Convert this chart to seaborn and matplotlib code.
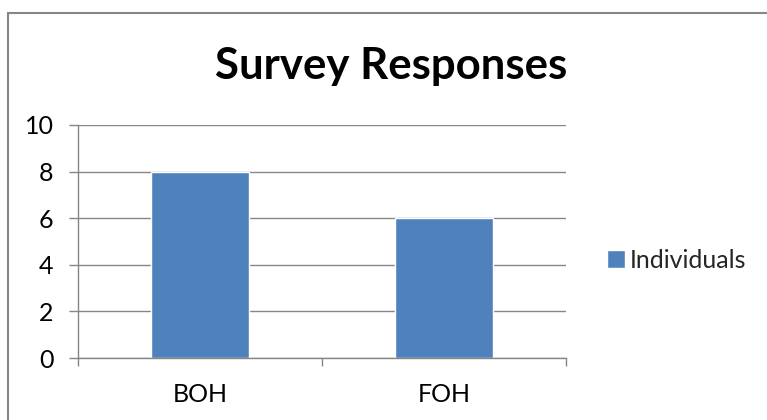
import matplotlib
matplotlib.use("Agg")
import matplotlib.pyplot as plt
import seaborn as sns
import pandas as pd
from matplotlib.patches import Rectangle

# Data
categories = ["BOH", "FOH"]
individuals = [8, 6]
series_name = "Individuals"
y_ticks = [0, 2, 4, 6, 8, 10]

df = pd.DataFrame({"Group": categories, "Count": individuals, "Series": series_name})

sns.set_theme(style="white")
plt.rcParams["font.family"] = ["Lato", "DejaVu Sans"]

W, H = 767, 420
fig = plt.figure(figsize=(W / 100, H / 100), dpi=100)
ax = fig.add_axes([78 / W, 1 - 358 / H, (566 - 78) / W, (358 - 125) / H])

bar_color = "#4F81BD"
grid_color = "#868686"

sns.barplot(data=df, x="Group", y="Count", hue="Series", palette=[bar_color],
            width=0.4, ax=ax, saturation=1, legend=True)

ax.set_xlim(-0.5, 1.5)
ax.set_ylim(0, 10)
ax.set_yticks(y_ticks)
ax.set_xlabel("")
ax.set_ylabel("")

# Horizontal gridlines behind bars
ax.set_axisbelow(True)
ax.yaxis.grid(True, color=grid_color, linewidth=1)
ax.xaxis.grid(False)

for side in ["top", "right"]:
    ax.spines[side].set_visible(False)
for side in ["left", "bottom"]:
    ax.spines[side].set_color(grid_color)
    ax.spines[side].set_linewidth(1)

ax.tick_params(axis="y", which="major", length=6.5, width=1, color=grid_color,
               labelsize=18, pad=11, left=True, labelcolor="black")
# Category dividers as minor ticks on the x axis
ax.set_xticks([-0.5, 0.5, 1.5], minor=True)
ax.tick_params(axis="x", which="minor", length=6, width=1, color=grid_color, bottom=True)
ax.tick_params(axis="x", which="major", length=0, labelsize=18, pad=18, labelcolor="black")

leg = ax.legend(loc="center left", bbox_to_anchor=(607 / W, 1 - 260 / H),
                bbox_transform=fig.transFigure, frameon=False, fontsize=18,
                handlelength=0.7, handleheight=0.7, handletextpad=0.2,
                borderaxespad=0, borderpad=0)

fig.text(391 / W, 1 - 66 / H, "Survey Responses", ha="center", va="center",
         fontsize=31.5, fontweight="bold", color="black")

# Chart area border
fig.patches.append(Rectangle((8 / W, -0.1), 1.2, 1.1 - 13 / H, transform=fig.transFigure,
                             fill=False, edgecolor=grid_color, linewidth=1.5))

fig.savefig("out.png", dpi=100)
